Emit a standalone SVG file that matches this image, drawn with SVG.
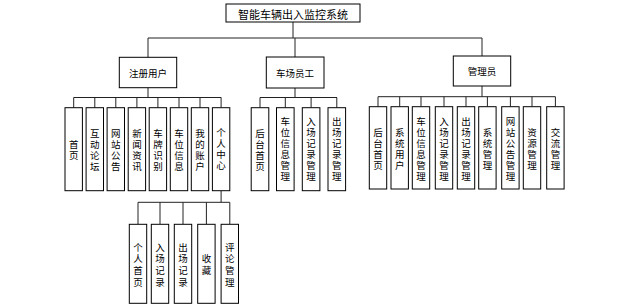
<svg xmlns="http://www.w3.org/2000/svg" width="627" height="308" viewBox="0 0 627 308">
<style>
.b{fill:#fff;stroke:#000;stroke-width:1}
.c{fill:none;stroke:#222;stroke-width:1}
text{font-family:"Noto Sans CJK SC","Noto Sans",sans-serif;fill:#000;text-anchor:middle;dominant-baseline:central}
.t{font-size:11px}
.m{font-size:9.5px}
.v{font-size:9.5px}
</style>
<rect width="627" height="308" fill="#fff"/>
<g id="connectors">
<path class="c" d="M293,22V38M148,38H482M148,38V57.3M295,38V57M482,38V56"/>
<path class="c" d="M148,87.7V97.5M73.7,97.5H221.2M73.7,97.5V107.7M94.8,97.5V107.7M115.8,97.5V107.7M136.9,97.5V107.7M157.9,97.5V107.7M179,97.5V107.7M200,97.5V107.7M221.1,97.5V107.7"/>
<path class="c" d="M295,88V97.5M260,97.5H337M260,97.5V107.7M285.3,97.5V107.7M311.1,97.5V107.7M336.8,97.5V107.7"/>
<path class="c" d="M482,86V96.7M378,96.7H555.4M378,96.7V106.7M399.7,96.7V106.7M421,96.7V106.7M444,96.7V106.7M466,96.7V106.7M487.4,96.7V106.7M510.4,96.7V106.7M532,96.7V106.7M555.4,96.7V106.7"/>
<path class="c" d="M221.1,190.7V202.3M138,202.3H229.8M138,202.3V224.3M160,202.3V224.3M183,202.3V224.3M206.4,202.3V224.3M229.8,202.3V224.3"/>
</g>
<g id="root"><rect class="b" x="226" y="4" width="134" height="18"/><text class="t" x="293" y="13.5">智能车辆出入监控系统</text></g>
<g id="zcyh"><rect class="b" x="119.3" y="57.3" width="57.4" height="30.4"/><text class="m" x="148" y="72.5">注册用户</text></g>
<g id="ccyg"><rect class="b" x="266.3" y="57" width="57.7" height="31"/><text class="m" x="295" y="72.5">车场员工</text></g>
<g id="gly"><rect class="b" x="453.3" y="56" width="57.4" height="30"/><text class="m" x="482" y="71">管理员</text></g>

<g id="u1"><rect class="b" x="65" y="107.7" width="17.4" height="83"/><text class="v"><tspan x="73.7" y="143.7">首</tspan><tspan x="73.7" dy="11">页</tspan></text></g>
<g id="u2"><rect class="b" x="86.1" y="107.7" width="17.4" height="83"/><text class="v"><tspan x="94.8" y="132.7">互</tspan><tspan x="94.8" dy="11">动</tspan><tspan x="94.8" dy="11">论</tspan><tspan x="94.8" dy="11">坛</tspan></text></g>
<g id="u3"><rect class="b" x="107.1" y="107.7" width="17.4" height="83"/><text class="v"><tspan x="115.8" y="132.7">网</tspan><tspan x="115.8" dy="11">站</tspan><tspan x="115.8" dy="11">公</tspan><tspan x="115.8" dy="11">告</tspan></text></g>
<g id="u4"><rect class="b" x="128.2" y="107.7" width="17.4" height="83"/><text class="v"><tspan x="136.9" y="132.7">新</tspan><tspan x="136.9" dy="11">闻</tspan><tspan x="136.9" dy="11">资</tspan><tspan x="136.9" dy="11">讯</tspan></text></g>
<g id="u5"><rect class="b" x="149.2" y="107.7" width="17.4" height="83"/><text class="v"><tspan x="157.9" y="132.7">车</tspan><tspan x="157.9" dy="11">牌</tspan><tspan x="157.9" dy="11">识</tspan><tspan x="157.9" dy="11">别</tspan></text></g>
<g id="u6"><rect class="b" x="170.3" y="107.7" width="17.4" height="83"/><text class="v"><tspan x="179" y="132.7">车</tspan><tspan x="179" dy="11">位</tspan><tspan x="179" dy="11">信</tspan><tspan x="179" dy="11">息</tspan></text></g>
<g id="u7"><rect class="b" x="191.3" y="107.7" width="17.4" height="83"/><text class="v"><tspan x="200" y="132.7">我</tspan><tspan x="200" dy="11">的</tspan><tspan x="200" dy="11">账</tspan><tspan x="200" dy="11">户</tspan></text></g>
<g id="u8"><rect class="b" x="212.4" y="107.7" width="17.4" height="83"/><text class="v"><tspan x="221.1" y="131.7">个</tspan><tspan x="221.1" dy="11">人</tspan><tspan x="221.1" dy="11">中</tspan><tspan x="221.1" dy="11">心</tspan></text></g>

<g id="s1"><rect class="b" x="251.2" y="107.7" width="17.6" height="83"/><text class="v"><tspan x="260" y="132.7">后</tspan><tspan x="260" dy="11">台</tspan><tspan x="260" dy="11">首</tspan><tspan x="260" dy="11">页</tspan></text></g>
<g id="s2"><rect class="b" x="276.5" y="107.7" width="17.6" height="83"/><text class="v"><tspan x="285.3" y="121">车</tspan><tspan x="285.3" dy="11">位</tspan><tspan x="285.3" dy="11">信</tspan><tspan x="285.3" dy="11">息</tspan><tspan x="285.3" dy="11">管</tspan><tspan x="285.3" dy="11">理</tspan></text></g>
<g id="s3"><rect class="b" x="302.3" y="107.7" width="17.6" height="83"/><text class="v"><tspan x="311.1" y="121">入</tspan><tspan x="311.1" dy="11">场</tspan><tspan x="311.1" dy="11">记</tspan><tspan x="311.1" dy="11">录</tspan><tspan x="311.1" dy="11">管</tspan><tspan x="311.1" dy="11">理</tspan></text></g>
<g id="s4"><rect class="b" x="328" y="107.7" width="17.6" height="83"/><text class="v"><tspan x="336.8" y="121">出</tspan><tspan x="336.8" dy="11">场</tspan><tspan x="336.8" dy="11">记</tspan><tspan x="336.8" dy="11">录</tspan><tspan x="336.8" dy="11">管</tspan><tspan x="336.8" dy="11">理</tspan></text></g>

<g id="a1"><rect class="b" x="369.3" y="106.7" width="17.4" height="82.3"/><text class="v"><tspan x="378" y="131.5">后</tspan><tspan x="378" dy="11">台</tspan><tspan x="378" dy="11">首</tspan><tspan x="378" dy="11">页</tspan></text></g>
<g id="a2"><rect class="b" x="391" y="106.7" width="17.4" height="82.3"/><text class="v"><tspan x="399.7" y="131.5">系</tspan><tspan x="399.7" dy="11">统</tspan><tspan x="399.7" dy="11">用</tspan><tspan x="399.7" dy="11">户</tspan></text></g>
<g id="a3"><rect class="b" x="412.3" y="106.7" width="17.4" height="82.3"/><text class="v"><tspan x="421" y="120.5">车</tspan><tspan x="421" dy="11">位</tspan><tspan x="421" dy="11">信</tspan><tspan x="421" dy="11">息</tspan><tspan x="421" dy="11">管</tspan><tspan x="421" dy="11">理</tspan></text></g>
<g id="a4"><rect class="b" x="435.3" y="106.7" width="17.4" height="82.3"/><text class="v"><tspan x="444" y="120.5">入</tspan><tspan x="444" dy="11">场</tspan><tspan x="444" dy="11">记</tspan><tspan x="444" dy="11">录</tspan><tspan x="444" dy="11">管</tspan><tspan x="444" dy="11">理</tspan></text></g>
<g id="a5"><rect class="b" x="457.3" y="106.7" width="17.4" height="82.3"/><text class="v"><tspan x="466" y="120.5">出</tspan><tspan x="466" dy="11">场</tspan><tspan x="466" dy="11">记</tspan><tspan x="466" dy="11">录</tspan><tspan x="466" dy="11">管</tspan><tspan x="466" dy="11">理</tspan></text></g>
<g id="a6"><rect class="b" x="478.7" y="106.7" width="17.4" height="82.3"/><text class="v"><tspan x="487.4" y="131.5">系</tspan><tspan x="487.4" dy="11">统</tspan><tspan x="487.4" dy="11">管</tspan><tspan x="487.4" dy="11">理</tspan></text></g>
<g id="a7"><rect class="b" x="501.7" y="106.7" width="17.4" height="82.3"/><text class="v"><tspan x="510.4" y="120.5">网</tspan><tspan x="510.4" dy="11">站</tspan><tspan x="510.4" dy="11">公</tspan><tspan x="510.4" dy="11">告</tspan><tspan x="510.4" dy="11">管</tspan><tspan x="510.4" dy="11">理</tspan></text></g>
<g id="a8"><rect class="b" x="523.3" y="106.7" width="17.4" height="82.3"/><text class="v"><tspan x="532" y="131.5">资</tspan><tspan x="532" dy="11">源</tspan><tspan x="532" dy="11">管</tspan><tspan x="532" dy="11">理</tspan></text></g>
<g id="a9"><rect class="b" x="546.7" y="106.7" width="17.4" height="82.3"/><text class="v"><tspan x="555.4" y="131.5">交</tspan><tspan x="555.4" dy="11">流</tspan><tspan x="555.4" dy="11">管</tspan><tspan x="555.4" dy="11">理</tspan></text></g>

<g id="p1"><rect class="b" x="129.3" y="224.3" width="17.4" height="79"/><text class="v"><tspan x="138" y="246.5">个</tspan><tspan x="138" dy="11.8">人</tspan><tspan x="138" dy="11.8">首</tspan><tspan x="138" dy="11.8">页</tspan></text></g>
<g id="p2"><rect class="b" x="151.3" y="224.3" width="17.4" height="79"/><text class="v"><tspan x="160" y="246.5">入</tspan><tspan x="160" dy="11.8">场</tspan><tspan x="160" dy="11.8">记</tspan><tspan x="160" dy="11.8">录</tspan></text></g>
<g id="p3"><rect class="b" x="174.3" y="224.3" width="17.4" height="79"/><text class="v"><tspan x="183" y="246.5">出</tspan><tspan x="183" dy="11.8">场</tspan><tspan x="183" dy="11.8">记</tspan><tspan x="183" dy="11.8">录</tspan></text></g>
<g id="p4"><rect class="b" x="197.7" y="224.3" width="17.4" height="79"/><text class="v"><tspan x="206.4" y="258.3">收</tspan><tspan x="206.4" dy="11.8">藏</tspan></text></g>
<g id="p5"><rect class="b" x="221.1" y="224.3" width="17.4" height="79"/><text class="v"><tspan x="229.8" y="246.5">评</tspan><tspan x="229.8" dy="11.8">论</tspan><tspan x="229.8" dy="11.8">管</tspan><tspan x="229.8" dy="11.8">理</tspan></text></g>
</svg>
